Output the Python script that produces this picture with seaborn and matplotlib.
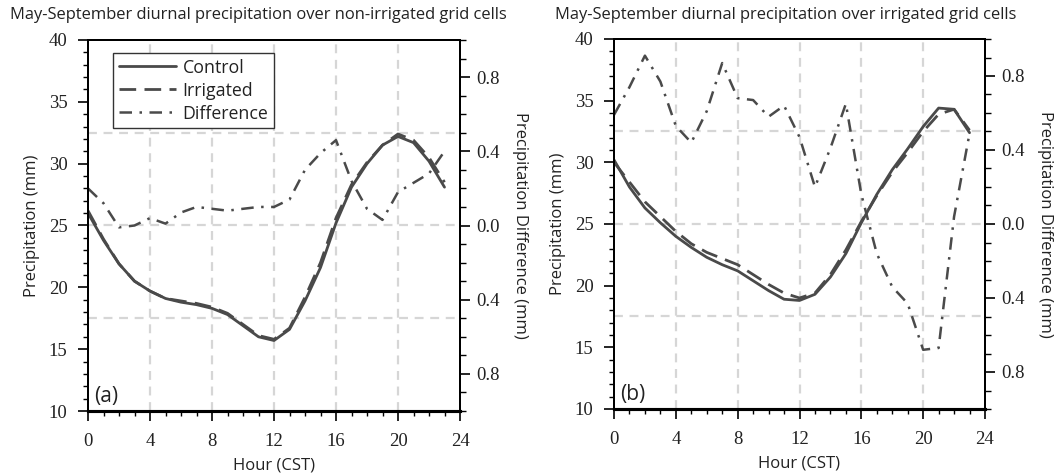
import numpy as np
import pandas as pd
import matplotlib
matplotlib.use("Agg")
import matplotlib.pyplot as plt
from matplotlib.ticker import MultipleLocator
import seaborn as sns

# jam (CST)
hours = list(range(24))

# panel (a): sel grid non-irigasi
control_a = [26.0, 23.8, 21.9, 20.5, 19.7, 19.1, 18.8, 18.6, 18.3, 17.8, 16.9, 16.0,
             15.7, 16.6, 18.9, 21.6, 25.2, 28.1, 30.0, 31.5, 32.2, 31.7, 30.2, 28.1]
irrigated_a = [26.2, 23.9, 21.9, 20.5, 19.7, 19.1, 18.9, 18.7, 18.4, 17.9, 17.0, 16.1,
               15.8, 16.7, 19.2, 22.0, 25.6, 28.3, 30.1, 31.5, 32.4, 31.9, 30.5, 28.5]
diff_a = [0.20, 0.12, -0.01, 0.00, 0.04, 0.01, 0.07, 0.10, 0.09, 0.08, 0.09, 0.10,
          0.10, 0.14, 0.30, 0.39, 0.46, 0.24, 0.09, 0.03, 0.18, 0.23, 0.28, 0.40]

# panel (b): sel grid irigasi
control_b = [30.2, 28.0, 26.3, 25.1, 24.0, 23.1, 22.3, 21.7, 21.2, 20.4, 19.6, 18.9,
             18.8, 19.3, 20.7, 22.6, 25.1, 27.4, 29.4, 31.1, 32.9, 34.4, 34.3, 32.4]
irrigated_b = [30.0, 28.4, 26.8, 25.6, 24.4, 23.4, 22.7, 22.2, 21.7, 20.9, 20.1, 19.4,
               19.0, 19.4, 20.9, 22.9, 25.2, 27.3, 29.2, 30.8, 32.5, 33.9, 34.3, 32.6]
diff_b = [0.59, 0.74, 0.91, 0.77, 0.53, 0.44, 0.61, 0.87, 0.68, 0.67, 0.58, 0.64,
          0.47, 0.20, 0.41, 0.65, 0.16, -0.16, -0.34, -0.43, -0.68, -0.67, 0.04, 0.49]

titles = ["May-September diurnal precipitation over non-irrigated grid cells",
          "May-September diurnal precipitation over irrigated grid cells"]
panel_tags = ["(a)", "(b)"]
diff_ticks = [-0.8, -0.4, 0.0, 0.4, 0.8]
diff_ticklabels = ["0.8", "0.4", "0.0", "0.4", "0.8"]

sns.set_theme(style="white")
# angka sumbu pakai serif, teks lain sans
plt.rcParams["font.family"] = ["Liberation Serif", "DejaVu Serif"]
SANS = ["Open Sans", "DejaVu Sans"]
LINE = "#4a4a4a"
GRID = "#d6d6d6"
TXT = "#222222"


def draw_panel(fig, rect, ctrl, irr, diff, tag, show_legend):
    ax = fig.add_axes(rect)
    ax2 = ax.twinx()

    # grid putus-putus abu-abu
    for h in [4, 8, 12, 16, 20]:
        ax.axvline(h, color=GRID, lw=1.6, ls=(0, (4, 3)), zorder=0)
    for v in [17.5, 25, 32.5]:
        ax.axhline(v, color=GRID, lw=1.6, ls=(0, (4, 3)), zorder=0)

    df = pd.DataFrame({"hour": hours, "control": ctrl, "irrigated": irr, "diff": diff})
    sns.lineplot(data=df, x="hour", y="control", ax=ax, color=LINE, lw=2.0,
                 legend=False, label="Control")
    sns.lineplot(data=df, x="hour", y="irrigated", ax=ax, color=LINE, lw=2.0,
                 linestyle=(0, (6, 3)), legend=False, label="Irrigated")
    sns.lineplot(data=df, x="hour", y="diff", ax=ax2, color=LINE, lw=1.8,
                 linestyle=(0, (5, 3, 1, 3)), legend=False, label="Difference")

    ax.set_xlim(0, 24)
    ax.set_ylim(10, 40)
    ax2.set_ylim(-1.0, 1.0)
    ax.xaxis.set_major_locator(MultipleLocator(4))
    ax.xaxis.set_minor_locator(MultipleLocator(1))
    ax.yaxis.set_major_locator(MultipleLocator(5))
    ax.yaxis.set_minor_locator(MultipleLocator(1))
    ax2.set_yticks(diff_ticks)
    ax2.set_yticklabels(diff_ticklabels)
    ax2.yaxis.set_minor_locator(MultipleLocator(0.1))

    ax.tick_params(axis="both", which="major", direction="out", length=7.2, width=1.2,
                   color="black", labelsize=13.5, labelcolor=TXT,
                   bottom=True, left=True, top=False, right=False)
    ax.tick_params(axis="x", which="major", pad=9)
    ax.tick_params(axis="y", which="major", pad=7.5)
    ax.tick_params(axis="both", which="minor", direction="out", length=3.8, width=1.0,
                   color="black", bottom=True, left=True, top=False, right=False)
    ax2.tick_params(axis="y", which="major", direction="out", length=7.2, width=1.2,
                    color="black", labelsize=13.5, pad=4.5, labelcolor=TXT,
                    right=True, left=False)
    ax2.tick_params(axis="y", which="minor", direction="out", length=4, width=1.0,
                    color="black", right=True, left=False)

    for a in (ax, ax2):
        for sp in a.spines.values():
            sp.set_color("black")
            sp.set_linewidth(1.4)
        a.spines["bottom"].set_linewidth(2.2)

    ax.set_xlabel("Hour (CST)", fontsize=12, labelpad=5, color=TXT, family=SANS)
    ax.set_ylabel("Precipitation (mm)", fontsize=12, labelpad=6, color=TXT, family=SANS)
    ax2.set_ylabel("Precipitation Difference (mm)", fontsize=12, rotation=270,
                   labelpad=20, color=TXT, family=SANS)

    ax.text(0.017, 0.012, tag, transform=ax.transAxes, fontsize=15,
            ha="left", va="bottom", color=TXT, family=SANS)

    if show_legend:
        handles = [l for l in ax.get_lines() if l.get_label() in ("Control", "Irrigated")] + \
                  [l for l in ax2.get_lines() if l.get_label() == "Difference"]
        leg = ax2.legend(handles, [h.get_label() for h in handles],
                         loc="upper left", bbox_to_anchor=(0.067, 0.965),
                         borderaxespad=0, fancybox=False, framealpha=1,
                         edgecolor="#333333", prop={"family": SANS, "size": 12.8},
                         handlelength=3.2, handletextpad=0.4, labelspacing=0.28,
                         borderpad=0.32)
        leg.get_frame().set_linewidth(1.0)
        for t in leg.get_texts():
            t.set_color(TXT)
    return ax


fig = plt.figure(figsize=(10.64, 4.76), dpi=100)
fig.patch.set_facecolor("white")

rect_a = [88 / 1064, 1 - 411 / 476, 372 / 1064, 371 / 476]
rect_b = [614 / 1064, 1 - 409 / 476, 371 / 1064, 370 / 476]

draw_panel(fig, rect_a, control_a, irrigated_a, diff_a, panel_tags[0], True)
draw_panel(fig, rect_b, control_b, irrigated_b, diff_b, panel_tags[1], False)

fig.text(258 / 1064, 1 - 15 / 476, titles[0], ha="center", va="center",
         fontsize=11.9, color=TXT, family=SANS)
fig.text(786 / 1064, 1 - 15 / 476, titles[1], ha="center", va="center",
         fontsize=11.9, color=TXT, family=SANS)

fig.savefig("out.png", dpi=100)
plt.close(fig)
